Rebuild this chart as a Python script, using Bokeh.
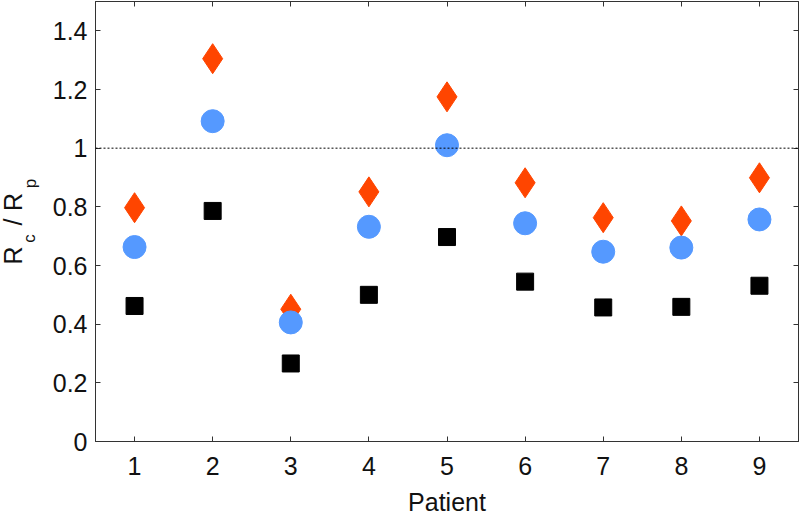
from bokeh.plotting import figure
from bokeh.models import Range1d, FixedTicker, LinearAxis, Span, CustomJSTickFormatter
from bokeh.layouts import row
from bokeh.core.properties import value
from bokeh.embed import file_html
from bokeh.resources import INLINE
import math

patients = [1, 2, 3, 4, 5, 6, 7, 8, 9]
diamond_vals = [0.797, 1.305, 0.451, 0.851, 1.175, 0.882, 0.763, 0.752, 0.899]
circle_vals = [0.663, 1.092, 0.406, 0.732, 1.010, 0.744, 0.647, 0.661, 0.757]
square_vals = [0.462, 0.786, 0.266, 0.500, 0.697, 0.545, 0.457, 0.459, 0.531]
y_ticks = [0, 0.2, 0.4, 0.6, 0.8, 1.0, 1.2, 1.4]
y_tick_labels = ["0", "0.2", "0.4", "0.6", "0.8", "1", "1.2", "1.4"]
x_label = "Patient"
ref_level = 1.0

FONT = "Liberation Sans"
AX = "#333333"
H = 518
LW = 45
BT, BB = 1, 77   # top / bottom borders shared by both panels

# ---- main plot ----
p = figure(width=800 - LW, height=H,
           x_range=Range1d(0.5, 9.5), y_range=Range1d(0, 1.5),
           output_backend="svg", toolbar_location=None,
           min_border_left=95 - LW, min_border_right=2,
           min_border_top=BT, min_border_bottom=BB)
p.grid.visible = False
p.outline_line_color = AX
p.outline_line_width = 1
p.background_fill_color = "white"
p.border_fill_color = "white"

p.add_layout(LinearAxis(), "right")
p.add_layout(LinearAxis(), "above")

overrides = {t: l for t, l in zip(y_ticks, y_tick_labels)}
for ax in p.xaxis:
    ax.ticker = FixedTicker(ticks=patients)
for ax in p.yaxis:
    ax.ticker = FixedTicker(ticks=y_ticks)
    ax.major_label_overrides = overrides

for ax in p.axis:
    ax.axis_line_color = AX
    ax.major_tick_line_color = AX
    ax.major_tick_in = 5
    ax.major_tick_out = 0
    ax.minor_tick_line_color = None
    ax.major_label_text_font = FONT
    ax.major_label_text_font_size = "25px"
    ax.major_label_text_color = "#111111"

blank = CustomJSTickFormatter(code="return '';")
for ax in p.right + p.above:
    ax.formatter = blank
    ax.major_label_overrides = {}
    ax.major_label_standoff = 0

p.below[0].major_label_standoff = 15
p.below[0].axis_label = x_label
p.below[0].axis_label_text_font = FONT
p.below[0].axis_label_text_font_size = "25px"
p.below[0].axis_label_text_font_style = "normal"
p.below[0].axis_label_text_color = "#111111"
p.below[0].axis_label_standoff = 10
p.left[0].major_label_standoff = 8

p.add_layout(Span(location=ref_level, dimension="width", line_color="black",
                  line_dash="2 2", line_width=1))

p.scatter(patients, square_vals, marker="square", size=17,
          fill_color="black", line_color="black")
p.scatter(patients, diamond_vals, marker="diamond", size=30,
          fill_color="#FF4500", line_color="#FF4500")
p.scatter(patients, circle_vals, marker="circle", size=23,
          fill_color="#5599FF", line_color="#5599FF")

# ---- narrow panel holding the rotated y-axis label R_c / R_p ----
# its frame is aligned with the main frame; range is in pixels from canvas bottom
lab = figure(width=LW, height=H, x_range=Range1d(0, LW), y_range=Range1d(BB, H - BT),
             output_backend="svg", toolbar_location=None, title=None,
             x_axis_type=None, y_axis_type=None,
             min_border_left=0, min_border_right=0,
             min_border_top=BT, min_border_bottom=BB)
lab.grid.visible = False
lab.outline_line_color = None
lab.background_fill_color = "white"
lab.border_fill_color = "white"

big = [("R", 12, 263), ("/", 12, 296.5), ("R", 12, 316.5)]
small = [("c", 29, 280), ("p", 29.5, 335)]
lab.text(x=[b[1] for b in big], y=[b[2] for b in big], text=[b[0] for b in big],
         angle=math.pi / 2, text_font=value(FONT), text_font_size="25px",
         text_color="#111111", text_align="center", text_baseline="middle")
lab.text(x=[s[1] for s in small], y=[s[2] for s in small], text=[s[0] for s in small],
         angle=math.pi / 2, text_font=value(FONT), text_font_size="17px",
         text_color="#111111", text_align="center", text_baseline="middle")

layout = row(lab, p, spacing=0)
open("out.html", "w").write(file_html(layout, INLINE))
